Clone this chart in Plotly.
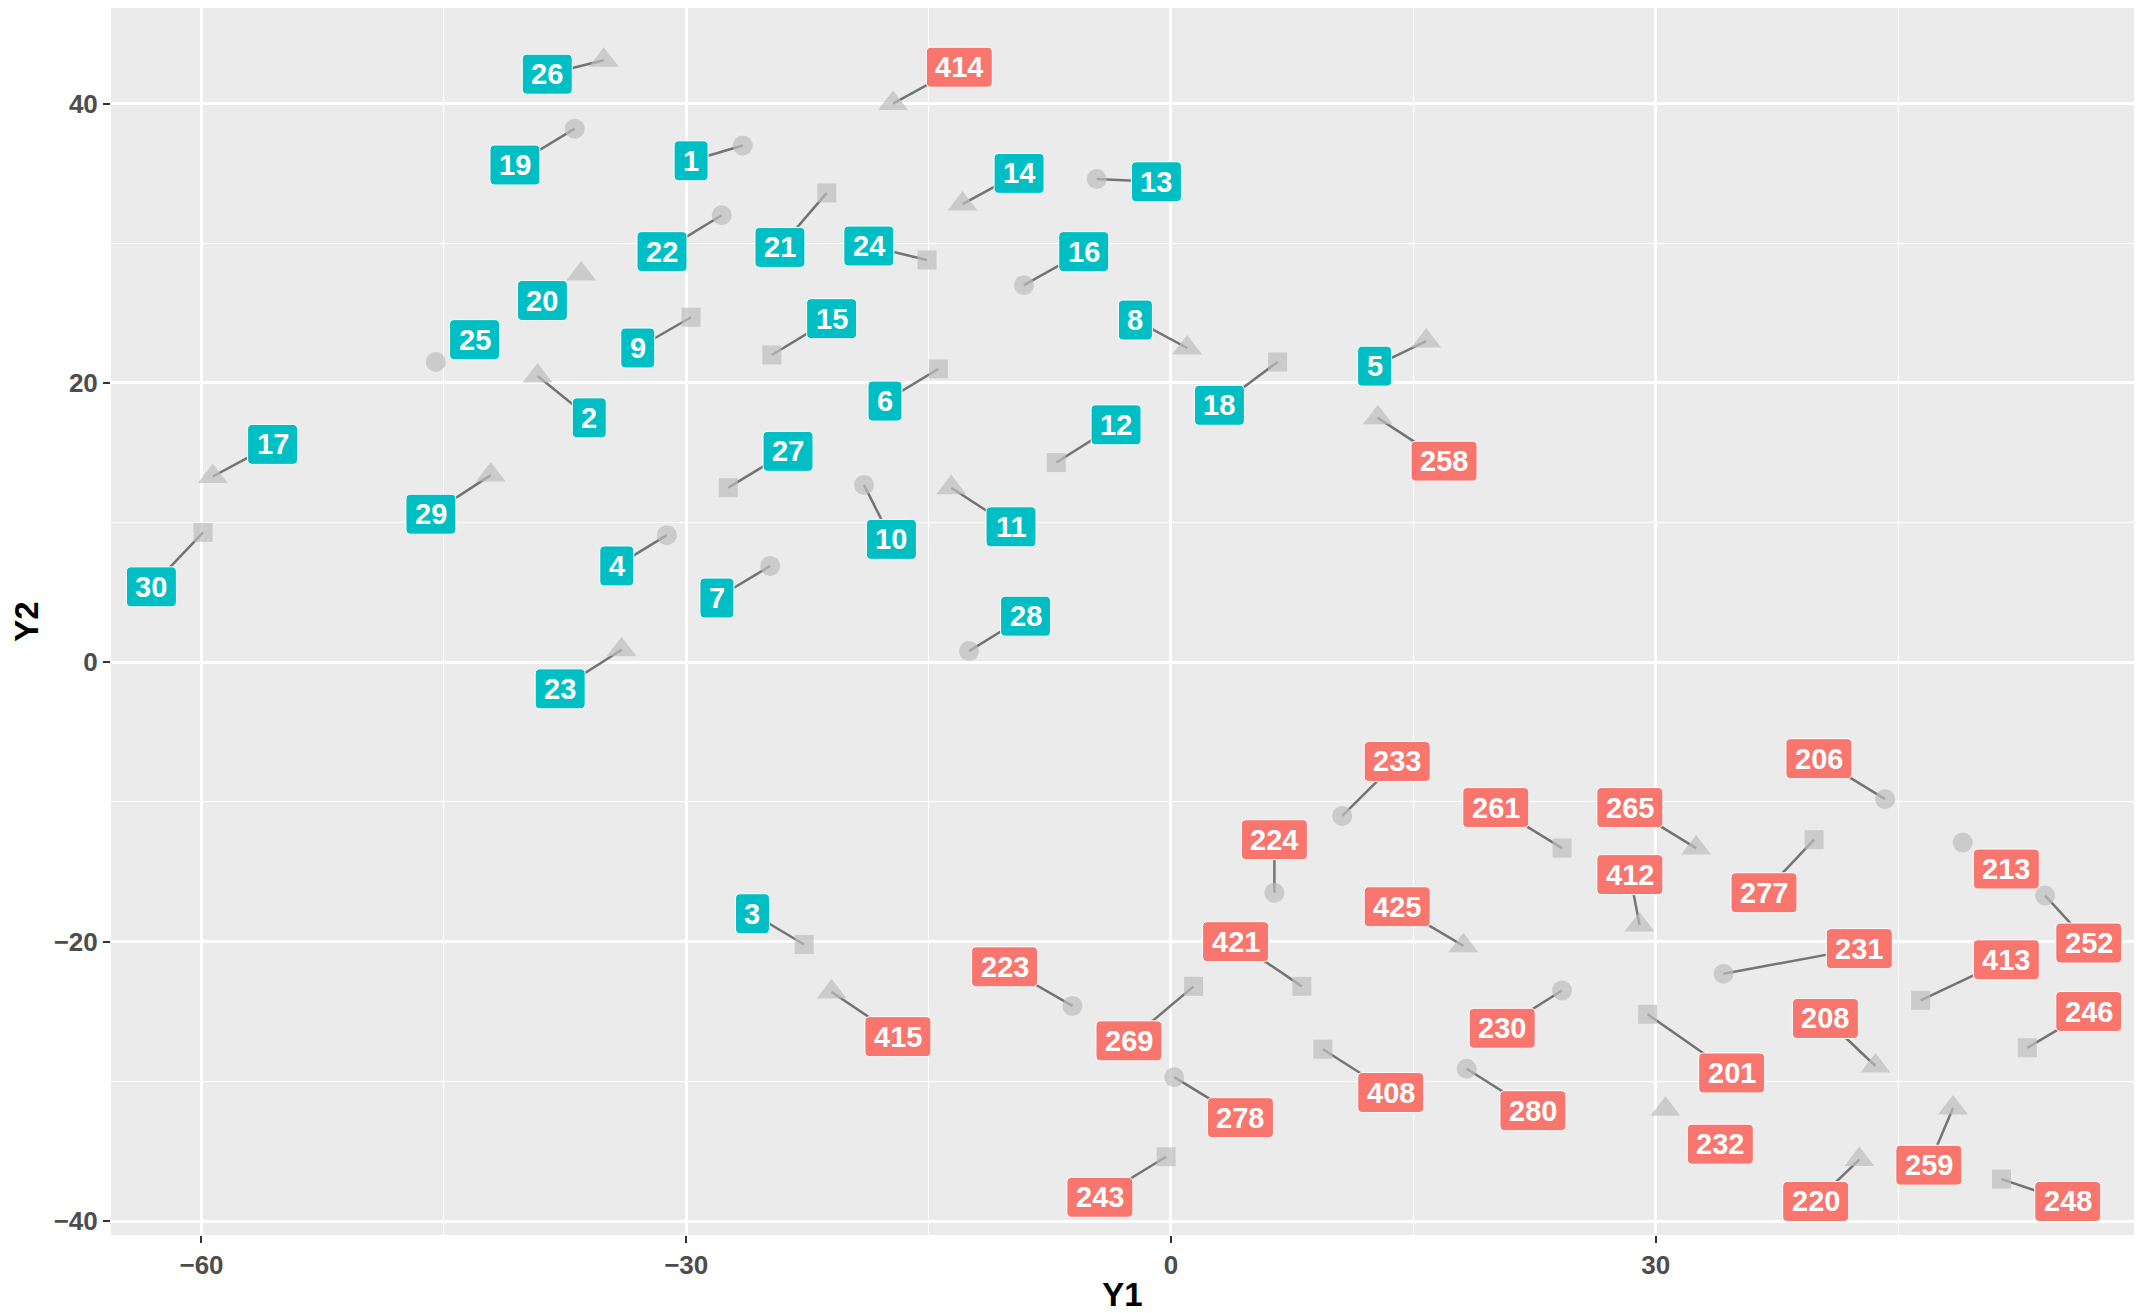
import plotly.graph_objects as go
import math

# ---------------- data ----------------
labels = ["1", "2", "3", "4", "5", "6", "7", "8", "9", "10",
          "11", "12", "13", "14", "15", "16", "17", "18", "19", "20",
          "21", "22", "23", "24", "25", "26", "27", "28", "29", "30",
          "201", "206", "208", "213", "220", "223", "224", "230", "231", "232",
          "233", "243", "246", "248", "252", "258", "259", "261", "265", "269",
          "277", "278", "280", "408", "412", "413", "414", "415", "421", "425"]

group = ["A"] * 30 + ["B"] * 30

shape = ["circle", "triangle", "square"] * 10 + [
    "square", "circle", "triangle", "circle", "triangle", "circle", "circle", "circle", "circle", "triangle",
    "circle", "square", "square", "square", "circle", "triangle", "triangle", "square", "triangle", "square",
    "square", "circle", "circle", "square", "triangle", "square", "triangle", "triangle", "square", "triangle"]

y1 = [-26.5, -39.2, -22.7, -31.2, 15.8, -14.4, -24.8, 1.0, -29.7, -19.0,
      -13.6, -7.1, -4.6, -12.9, -24.7, -9.1, -59.3, 6.6, -36.9, -36.5,
      -21.3, -27.8, -34.0, -15.1, -45.5, -35.1, -27.4, -12.5, -42.1, -59.9,
      29.5, 44.2, 43.6, 49.0, 42.6, -6.1, 6.4, 24.2, 34.2, 30.6,
      10.6, -0.3, 53.0, 51.4, 54.1, 12.8, 48.4, 24.2, 32.5, 1.4,
      39.8, 0.2, 18.3, 9.4, 29.0, 46.4, -17.2, -21.0, 8.1, 18.1]

y2 = [37.0, 20.5, -20.2, 9.1, 23.0, 21.0, 6.9, 22.5, 24.7, 12.7,
      12.5, 14.3, 34.6, 32.8, 22.0, 27.0, 13.3, 21.5, 38.2, 27.8,
      33.6, 32.0, 0.9, 28.8, 21.5, 43.1, 12.5, 0.8, 13.4, 9.3,
      -25.2, -9.8, -28.9, -12.9, -35.6, -24.6, -16.5, -23.5, -22.3, -32.0,
      -11.0, -35.4, -27.6, -37.0, -16.7, 17.5, -31.9, -13.3, -13.3, -23.2,
      -12.7, -29.7, -29.1, -27.7, -18.8, -24.2, 40.0, -23.6, -23.2, -20.3]

# repelled label positions (as placed in the reference)
label_x = [-29.7, -36.0, -25.9, -34.3, 12.6, -17.7, -28.1, -2.2, -33.0, -17.3,
           -9.9, -3.4, -0.9, -9.4, -21.0, -5.4, -55.6, 3.0, -40.6, -38.9,
           -24.2, -31.5, -37.8, -18.7, -43.1, -38.6, -23.7, -9.0, -45.8, -63.1,
           34.7, 40.1, 40.5, 51.7, 39.9, -10.3, 6.4, 20.5, 42.6, 34.0,
           14.0, -4.4, 56.8, 55.5, 56.8, 16.9, 46.9, 20.1, 28.4, -2.6,
           36.7, 4.3, 22.4, 13.6, 28.4, 51.7, -13.1, -16.9, 4.0, 14.0]

label_y = [35.9, 17.5, -18.0, 6.9, 21.2, 18.7, 4.6, 24.5, 22.5, 8.8,
           9.7, 17.0, 34.4, 35.0, 24.6, 29.4, 15.6, 18.4, 35.6, 25.9,
           29.7, 29.4, -1.9, 29.8, 23.1, 42.1, 15.1, 3.3, 10.6, 5.4,
           -29.4, -6.9, -25.5, -14.8, -38.6, -21.8, -12.7, -26.2, -20.5, -34.5,
           -7.1, -38.3, -25.0, -38.6, -20.1, 14.4, -36.0, -10.4, -10.4, -27.1,
           -16.5, -32.6, -32.1, -30.8, -15.2, -21.3, 42.6, -26.8, -20.0, -17.5]

x_ticks = [-60, -30, 0, 30]
y_ticks = [-40, -20, 0, 20, 40]

# ---------------- style ----------------
# the page body adds an 8px offset, so the figure is sized to fit the window
W, H = 2136, 1305
margin = dict(l=103, r=10, t=0, b=78)
x_range = [-65.6, 59.6]
y_range = [-41.0, 46.84]
group_colors = {"A": "#00BFC4", "B": "#F8766D"}
symbol_map = {"circle": "circle", "square": "square", "triangle": "triangle-up"}
size_map = {"circle": 20, "square": 19, "triangle": 26}
radius_map = {"circle": 10, "square": 9, "triangle": 11}
FONT = "Liberation Sans, Arial, sans-serif"
label_font_size = 29
digit_w = 16
box_h = 40
corner_r = 5

# pixel scales (data unit -> px) from the fixed plot area
sx = (W - margin["l"] - margin["r"]) / (x_range[1] - x_range[0])
sy = (H - margin["t"] - margin["b"]) / (y_range[1] - y_range[0])

seg_x, seg_y = [], []
for i in range(len(labels)):
    dx = (label_x[i] - y1[i]) * sx
    dy = (label_y[i] - y2[i]) * sy
    length = math.hypot(dx, dy)
    bw = digit_w * len(labels[i]) + 18
    fx = (bw / 2) / abs(dx) if dx != 0 else float("inf")
    fy = (box_h / 2) / abs(dy) if dy != 0 else float("inf")
    inside = min(fx, fy, 1.0)
    visible = (1 - inside) * length - radius_map[shape[i]]
    if visible > 18.5:
        seg_x += [y1[i], label_x[i], None]
        seg_y += [y2[i], label_y[i], None]

fig = go.Figure()
fig.add_trace(go.Scatter(x=seg_x, y=seg_y, mode="lines",
                         line=dict(color="#747474", width=2.5),
                         hoverinfo="skip", showlegend=False))
fig.add_trace(go.Scatter(
    x=y1, y=y2, mode="markers",
    marker=dict(symbol=[symbol_map[s] for s in shape],
                size=[size_map[s] for s in shape],
                color="#BEBEBE", line=dict(width=0)),
    text=labels, showlegend=False))

# rounded label boxes (size derived from the label text), then the text on top
shapes = []
for i, lab in enumerate(labels):
    hw = (digit_w * len(lab) + 18) / 2 / sx
    hh = box_h / 2 / sy
    rx, ry = corner_r / sx, corner_r / sy
    x0, x1 = label_x[i] - hw, label_x[i] + hw
    yb, yt = label_y[i] - hh, label_y[i] + hh
    path = (f"M {x0 + rx},{yb} L {x1 - rx},{yb} Q {x1},{yb} {x1},{yb + ry} "
            f"L {x1},{yt - ry} Q {x1},{yt} {x1 - rx},{yt} "
            f"L {x0 + rx},{yt} Q {x0},{yt} {x0},{yt - ry} "
            f"L {x0},{yb + ry} Q {x0},{yb} {x0 + rx},{yb} Z")
    shapes.append(dict(type="path", path=path, xref="x", yref="y", layer="above",
                       fillcolor=group_colors[group[i]],
                       line=dict(color="white", width=1)))
    fig.add_annotation(
        x=label_x[i], y=label_y[i], xref="x", yref="y", text=lab,
        showarrow=False, xanchor="center", yanchor="middle",
        font=dict(family=FONT, size=label_font_size, color="white", weight="bold"))

axis_common = dict(
    showgrid=True, gridcolor="white", gridwidth=2.6, zeroline=False,
    ticks="outside", ticklen=7, tickwidth=2, tickcolor="#333333",
    tickfont=dict(family=FONT, size=26, color="#4D4D4D", weight="bold"),
    showline=False, automargin=False)

fig.update_xaxes(range=x_range, tickvals=x_ticks, ticktext=["\u221260", "\u221230", "0", "30"],
                 minor=dict(dtick=15, tick0=0, showgrid=True, gridcolor="white", gridwidth=1.3),
                 title=dict(text="Y1", standoff=8,
                            font=dict(family=FONT, size=33, color="black", weight="bold")),
                 **axis_common)
fig.update_yaxes(range=y_range, tickvals=y_ticks, ticktext=["\u221240", "\u221220", "0", "20", "40"],
                 minor=dict(dtick=10, tick0=0, showgrid=True, gridcolor="white", gridwidth=1.3),
                 title=dict(text="Y2", standoff=14,
                            font=dict(family=FONT, size=33, color="black", weight="bold")),
                 **axis_common)

fig.update_layout(width=W, height=H, margin=margin, shapes=shapes,
                  plot_bgcolor="#EBEBEB", paper_bgcolor="white",
                  font=dict(family=FONT), showlegend=False)

fig.write_html("out.html")
